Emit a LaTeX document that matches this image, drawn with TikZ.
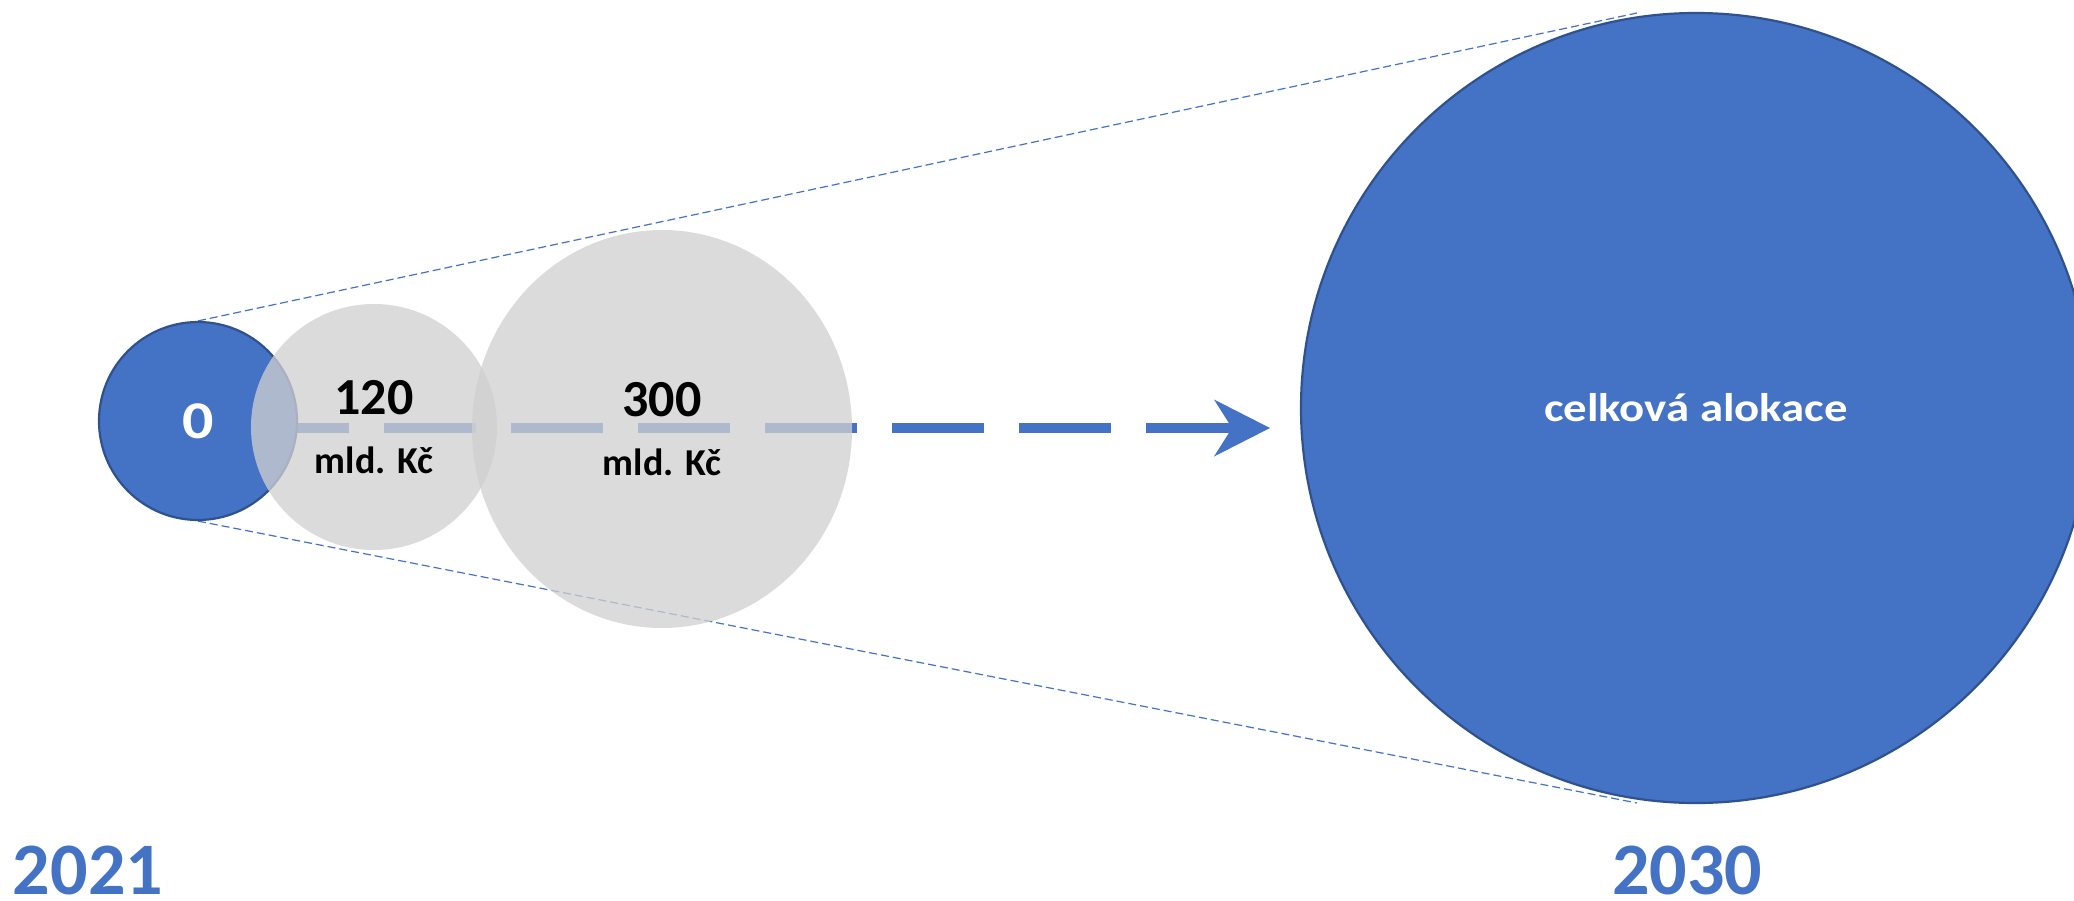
\documentclass[tikz,border=0pt]{standalone}
\usepackage{fontspec}
\setmainfont{Carlito}
\newfontfamily\widefont{Carlito}[FakeStretch=1.17]
\usetikzlibrary{arrows.meta,shapes.geometric}
\definecolor{accent}{HTML}{4472C4}
\definecolor{accentdark}{HTML}{2F528F}
\definecolor{shade}{HTML}{D0D0D0}
\pgfdeclarelayer{back}
\pgfsetlayers{back,main}
\tikzstyle{bluedot} = [circle, fill=accent, draw=accentdark, line width=2.2pt, inner sep=0pt, text=white, font=\widefont\bfseries\fontsize{53}{53}\selectfont]
\tikzstyle{greydot} = [fill=shade, fill opacity=0.76, text opacity=1, inner sep=0pt, align=center, font=\bfseries\fontsize{38}{59}\selectfont]
\tikzstyle{ray} = [accent, line width=1.2pt, dash pattern=on 8pt off 4pt]
\tikzstyle{flow} = [accent, line width=10.5pt, dash pattern=on 92pt off 35pt, -{Stealth[length=56pt,width=57pt,inset=18pt,line width=0pt]}]
\tikzstyle{year} = [accent, anchor=base, inner sep=0pt, font=\bfseries\fontsize{74}{74}\selectfont]
\begin{document}
\begin{tikzpicture}[x=1pt,y=-1pt]

		\useasboundingbox (0,0) rectangle (2074,900);

		\node[bluedot, minimum size=198pt] (start) at (198,421) {0};
		\node[greydot, circle, minimum size=246pt] (first) at (374,427) {{\fontsize{52}{59}\selectfont 120}\\mld. Kč};
		\node[greydot, ellipse, minimum width=380pt, minimum height=398pt] (second) at (662,429) {{\fontsize{52}{59}\selectfont 300}\\mld. Kč};
		\node[bluedot, minimum size=790pt, font=\widefont\bfseries\fontsize{40}{40}\selectfont] (total) at (1696,408) {celková alokace};

		\node[year] (from) at (88,894) {2021};
		\node[year] (to) at (1687,894) {2030};

		\coordinate (tail) at (257,428);
		\coordinate (tip) at (1270,428);
		\coordinate (rayA) at (1637,13);
		\coordinate (rayB) at (1637,803);

		\begin{pgfonlayer}{back}
			\fill[white] (0,0) rectangle (2074,900);
			\draw[flow] (tail) -- (tip);
			\foreach \a/\b in {north/rayA,south/rayB}
				\draw[ray] (start.\a) -- (\b);
		\end{pgfonlayer}

\end{tikzpicture}
\end{document}
